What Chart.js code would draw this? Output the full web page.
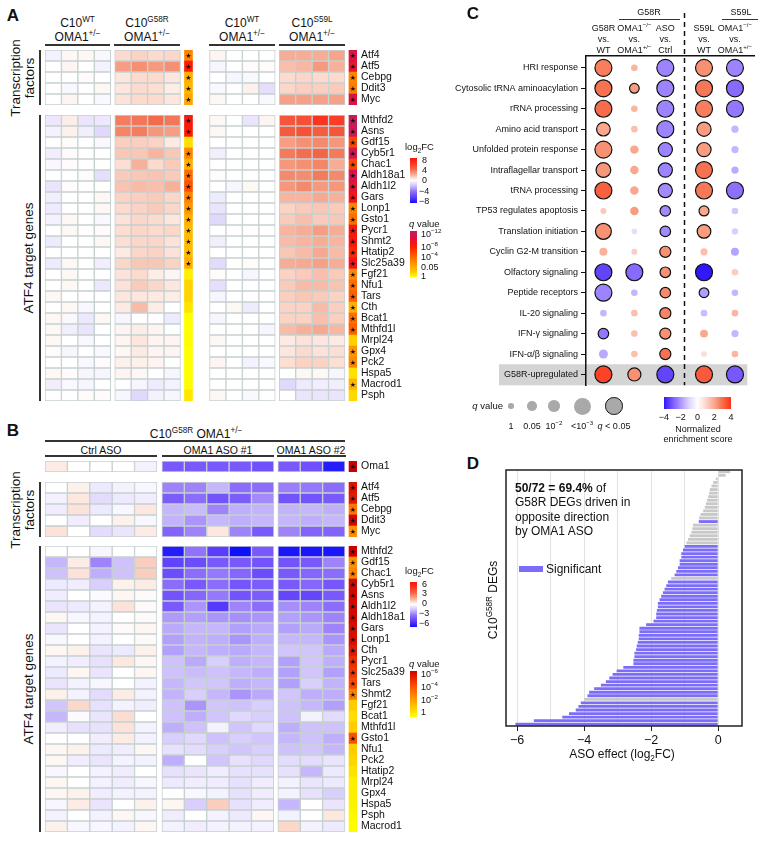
<!DOCTYPE html>
<html>
<head>
<meta charset="utf-8">
<script src="https://cdn.jsdelivr.net/npm/chart.js@4.4.0/dist/chart.umd.min.js"></script>
<style>
html, body { margin: 0; padding: 0; background: #fff; }
#fig { position: relative; width: 764px; height: 843px; overflow: hidden; font-family: "Liberation Sans", Arial, sans-serif; color: #111; }
#fig canvas { position: absolute; }
.t { position: absolute; white-space: nowrap; line-height: 1; text-align: center; }
.box { position: absolute; }
sup, sub { font-size: 68%; line-height: 0; }
</style>
</head>
<body>
<div id="fig"></div>
<script>
// ---------- panel A : C10 mutants vs WT (log2FC per replicate) ----------
const aTfGenes = ['Atf4', 'Atf5', 'Cebpg', 'Ddit3', 'Myc'];
const aTgGenes = ['Mthfd2', 'Asns', 'Gdf15', 'Cyb5r1', 'Chac1', 'Aldh18a1', 'Aldh1l2', 'Gars', 'Lonp1', 'Gsto1',
  'Pycr1', 'Shmt2', 'Htatip2', 'Slc25a39', 'Fgf21', 'Nfu1', 'Tars', 'Cth', 'Bcat1', 'Mthfd1l', 'Mrpl24', 'Gpx4',
  'Pck2', 'Hspa5', 'Macrod1', 'Psph'];

const aTfWtA = [[-0.4, 0.2, 0.2, -0.2], [0, 0.3, 0, -0.4], [0, 0, 0.1, 0], [0, -0.2, 0, 0.2], [0, 0.3, 0, -0.2]];
const aTfG58R = [[1.0, 1.2, 1.0, 1.1], [2.6, 3.0, 2.7, 3.0], [0.7, 1.0, 1.0, 0.7], [0.7, 1.0, 0.9, 0.5], [0.8, 1.0, 1.0, 0.7]];
const aTfWtB = [[0.3, 0, 0, 0], [-0.3, 0, 0.1, 0.1], [0, -0.3, -0.2, 0], [-0.2, 0, 0.4, -1.0], [0.2, 0, 0, -0.2]];
const aTfS59L = [[2.2, 2.2, 2.2, 2.4], [1.7, 1.9, 2.7, 2.1], [1.0, 1.1, 1.0, 1.0], [1.1, 1.3, 1.3, 1.4], [2.5, 2.5, 2.5, 2.5]];
const aTfQG58R = [4.2, 8, 2.5, 2.2, 2.8];   // -log10 q
const aTfQS59L = [10.5, 9.5, 4.2, 4.5, 10.5];

const aTgWtA = [
  [-0.7, 0.5, -0.8, -0.7], [-0.4, 0.4, -0.5, -1.2], [0, 0.1, 0, -0.2], [-0.5, 0.1, 0, 0], [-0.2, 0.1, 0, 0],
  [0, 0, 0.1, -1.0], [-0.8, 0.1, 0, 0], [-0.5, 0, 0, 0.2], [-0.6, 0, 0, 0.2], [-0.4, 0.2, 0, -0.2],
  [0, 0.2, 0, 0.1], [-0.6, 0, 0, 0.2], [0, 0, 0, 0], [-0.6, 0.2, 0, -0.5], [0, 0.2, 0, 0],
  [0, 0.2, 0, -0.7], [0.2, 0, 0, 0], [0, 0.2, -0.2, 0], [0.2, -0.2, -0.7, 0.2], [0.2, -0.5, -0.8, 0],
  [0.2, 0, -0.2, 0], [0.1, -0.3, 0, -0.2], [0, 0, -0.2, 0.1], [0.2, 0.1, -0.3, -0.3], [-0.5, -0.2, -0.3, 0], [0, 0, 0.1, 0.1]];
const aTgG58R = [
  [3.5, 3.7, 4.0, 3.7], [3.3, 3.5, 2.8, 2.6], [1.3, 1.3, 1.2, 0.6], [1.5, 1.5, 2.0, 1.5], [0.9, 2.1, 1.0, 1.4],
  [1.4, 1.5, 1.6, 1.4], [1.6, 1.8, 1.7, 2.1], [1.2, 1.3, 1.4, 1.1], [1.0, 1.2, 1.4, 1.1], [0.8, 1.1, 1.0, 0.7],
  [0.9, 1.1, 1.0, 1.1], [0.9, 1.1, 1.1, 0.8], [0.6, 1.1, 1.2, 0.8], [1.1, 1.5, 1.5, 1.2], [0.8, 1.0, 0.5, 0.3],
  [0.8, 1.4, 1.1, 0.7], [0.7, 0.7, 0.6, 0.5], [0.6, 1.8, 0.5, 0], [-0.3, 0, 0, -0.6], [0.3, 0.5, 0.3, 0],
  [0.3, 0.7, 0.3, 0.3], [0.2, 0.6, 0.3, 0.3], [0.4, 0.4, 0.3, 0], [0.3, 0.2, 0, -0.3], [0, -0.3, -0.6, -0.4], [-0.3, -1.2, -0.4, -0.3]];
const aTgWtB = [
  [0.2, 0, -0.8, 0.3], [0.2, 0, 0, 0], [0, 0, 0, 0], [-0.5, 0, 0, 0], [0, 0, 0, 0],
  [0.1, 0, 0, 0], [0, -0.3, 0.2, 0], [-0.6, 0, 0, 0], [-0.8, 0, 0, 0], [-1.2, 0, 0, 0],
  [0, 0, 0, 0], [-0.5, 0, 0, 0], [0, 0, 0, 0], [-1.1, 0, 0.1, 0], [0.1, 0, -0.3, 0],
  [-1.0, 0, 0, 0], [-0.3, 0, 0, 0], [0, 0.2, -0.6, 0], [-0.3, 0, 0, 0], [0, 0, 0, -0.3],
  [0.2, 0, 0, 0], [0, 0, 0, 0], [0.3, 0, -0.4, -0.2], [0, 0, 0, 0], [0, 0, 0, 0], [0.2, 0, -0.2, 0]];
const aTgS59L = [
  [4.8, 5.0, 6.2, 5.8], [4.6, 4.9, 4.5, 4.8], [2.6, 3.0, 3.2, 2.8], [3.6, 3.9, 4.2, 3.6], [2.8, 3.0, 3.3, 2.2],
  [3.2, 3.1, 3.6, 3.2], [2.8, 3.2, 2.7, 2.8], [2.0, 2.0, 2.3, 2.1], [1.2, 1.4, 1.5, 1.4], [1.4, 1.7, 1.4, 1.5],
  [2.0, 2.2, 2.6, 2.2], [1.8, 2.0, 2.2, 2.0], [1.5, 1.8, 2.3, 1.8], [2.2, 2.3, 2.5, 2.2], [1.2, 1.4, 1.7, 1.4],
  [1.4, 1.8, 1.8, 1.6], [1.3, 1.5, 1.4, 1.2], [1.2, 1.2, 1.8, 1.3], [1.2, 1.2, 1.7, 1.3], [1.8, 2.1, 2.3, 1.9],
  [0.6, 0.8, 0.7, 0.6], [0.7, 1.0, 0.8, 0.9], [0.9, 1.2, 1.2, 0.9], [0, 0.2, 0.2, -0.3], [-1.2, -0.6, -0.5, -0.5], [0, -0.8, -0.8, -0.8]];
const aTgQG58R = [8.5, 8, 0.8, 4, 2.5, 5, 6, 4.2, 3.5, 2.5, 2, 2, 2, 2.5, 0.4, 1.1, 1.1, 0.7, 0, 0, 0.1, 0, 0, 0, 0.1, 0.6];
const aTgQS59L = [11.5, 11.5, 6.5, 11, 6.5, 11, 9.5, 9, 4.2, 5, 8.5, 8.5, 7.5, 9, 4, 5, 5.5, 2.5, 5, 5.5, 1.2, 3.5, 4, 0.8, 2.2, 1.0];

// ---------- panel B : OMA1 ASO in C10 G58R ----------
const bOmaGene = ['Oma1'];
const bTgGenes = ['Mthfd2', 'Gdf15', 'Chac1', 'Cyb5r1', 'Asns', 'Aldh1l2', 'Aldh18a1', 'Gars', 'Lonp1', 'Cth',
  'Pycr1', 'Slc25a39', 'Tars', 'Shmt2', 'Fgf21', 'Bcat1', 'Mthfd1l', 'Gsto1', 'Nfu1', 'Pck2', 'Htatip2',
  'Mrpl24', 'Gpx4', 'Hspa5', 'Psph', 'Macrod1'];

const bOmaCtrl = [[0.4, 0, 0, 0, -0.3]];
const bOmaAso1 = [[-3.6, -3.6, -3.6, -3.6, -3.9]];
const bOmaAso2 = [[-3.6, -3.9, -5.6]];
const bOmaQ = [6];

const bTfCtrl = [[0, 0.3, -0.5, -0.3, -0.2], [-0.3, 0.5, -0.8, -0.5, -0.4], [-0.4, 0.6, -0.5, -0.2, 0.5], [0, -0.4, 0, 0.3, -0.2], [0.6, 0, -0.8, -0.6, 0.4]];
const bTfAso1 = [[-2.6, -2.6, -1.6, -3.0, -3.0], [-3.5, -3.0, -3.8, -3.5, -2.5], [-1.6, -1.5, -2.6, -1.8, -1.7], [-1.7, -2.3, -1.6, -1.8, -1.6], [-3.3, -2.6, 0.5, -2.6, -3.6]];
const bTfAso2 = [[-2.7, -2.8, -3.0], [-3.8, -3.8, -3.6], [-1.7, -1.6, -1.8], [-1.6, -1.8, -1.6], [-2.6, -3.3, -3.3]];
const bTfQ = [5.5, 5.3, 3.2, 5.8, 2.6];

const bTgCtrl = [
  [0, 0, -0.2, 0, 0], [-1.6, 0.4, -2.6, -1.4, 1.0], [-1.4, 0.6, -1.8, -1.4, 1.0], [-0.5, -0.4, -1.1, 0.3, 0.4],
  [-0.4, 0, -0.1, 0.2, 0.1], [-0.6, -0.5, -0.3, 0.6, 0.1], [0.2, -0.2, -0.3, 0, 0.1], [-0.6, 0, -0.3, 0.1, 0.2],
  [-0.2, 0, -0.3, 0, 0.1], [0.2, 0.3, -0.6, -0.5, 0.3], [-0.3, -0.4, -0.7, 0.5, 0.2], [-0.5, 0.2, -0.6, 0, 0.2],
  [-0.6, -0.3, -0.2, 0, -0.3], [0.3, -0.3, -0.8, 0.4, -0.3], [-1.3, 0.8, -0.7, -0.3, -0.4], [-1.6, -0.1, -0.6, 0.7, 0],
  [-0.4, -0.7, -0.7, 0.6, -0.3], [0, 0, -0.4, 0.4, -0.3], [0.2, 0.3, -0.5, -0.4, 0.2], [0.2, -0.4, -0.6, -0.3, -0.3],
  [-0.2, 0, -0.3, -0.4, 0], [0.2, 0, -0.3, -0.4, -0.2], [0.2, 0.3, -0.4, -0.3, -0.3], [-0.2, 0.4, -0.6, 0, 0.3],
  [-0.3, 0, -0.3, 0.2, -0.2], [0.3, -0.2, -0.2, -0.3, 0.2]];
const bTgAso1 = [
  [-5.6, -2.9, -4.5, -6.0, -3.6], [-4.3, -4.0, -3.6, -3.6, -3.8], [-4.0, -3.0, -2.8, -3.2, -4.0], [-3.0, -3.6, -3.0, -3.7, -3.5],
  [-3.8, -3.2, -2.8, -3.8, -3.5], [-3.6, -2.3, -4.6, -2.6, -3.0], [-2.2, -2.1, -2.3, -2.4, -2.3], [-1.9, -1.6, -1.6, -2.1, -1.9],
  [-2.1, -1.7, -1.8, -2.3, -1.8], [-2.1, -1.6, -1.8, -1.9, -1.6], [-1.4, -1.9, -1.1, -1.8, -1.6], [-1.4, -1.5, -1.4, -1.6, -1.8],
  [-1.6, -1.3, -1.3, -1.8, -1.6], [-1.7, -1.1, -1.6, -2.3, -1.9], [-1.4, -2.3, -1.3, -1.4, -1.1], [-1.4, -1.8, -1.3, -0.9, -1.1],
  [-1.8, -1.4, -0.3, -1.3, -0.9], [-1.1, -0.9, -1.4, -1.1, -1.3], [-0.7, -0.8, -1.1, -1.3, -1.1], [-1.8, 0, -1.3, -0.7, -0.9],
  [-0.7, -0.6, -0.4, -0.7, -0.7], [-0.5, -0.4, -0.4, -0.7, -0.4], [0, -0.2, -0.3, -0.7, -0.4], [0.2, -1.1, 1.0, -0.7, -0.4],
  [-0.4, 0, -0.3, -0.5, 0.2], [-0.3, -0.4, -0.3, -0.3, -0.3]];
const bTgAso2 = [
  [-5.8, -5.8, -5.8], [-3.8, -3.6, -2.6], [-3.6, -3.2, -3.0], [-3.6, -3.2, -3.7], [-4.2, -4.2, -3.6], [-2.4, -2.6, -3.0],
  [-2.1, -2.3, -2.6], [-2.1, -1.9, -2.6], [-1.6, -1.6, -2.3], [-1.3, -1.3, -1.9], [-2.1, -1.3, -1.8], [-2.1, -1.3, -2.1],
  [-2.1, -1.1, -1.7], [-1.3, -1.8, -1.8], [-1.4, -1.6, -2.1], [-1.4, -0.3, -0.8], [-1.8, -1.4, -1.4], [-1.6, -1.4, -1.8],
  [-1.4, -1.3, -1.6], [-0.8, -0.8, -0.6], [-0.7, -1.6, -0.5], [-0.3, -0.6, -0.5], [-0.3, -0.7, -1.1], [-1.6, 0, -0.6],
  [-0.3, 0, 0.5], [0.8, -0.3, -0.5]];
const bTgQ = [6, 2.6, 2.9, 5.8, 5.8, 5.8, 5.8, 5.6, 5.6, 5.3, 4.8, 4.6, 4.2, 3, 1.2, 0.8, 1.2, 4, 1.2, 1.0, 0.7, 0.4, 0.4, 0.3, 0.2, 0.1];

// ---------- panel C : pathway enrichment ----------
const cPaths = ['HRI response', 'Cytosolic tRNA aminoacylation', 'rRNA processing', 'Amino acid transport',
  'Unfolded protein response', 'Intraflagellar transport', 'tRNA processing', 'TP53 regulates apoptosis',
  'Translation initiation', 'Cyclin G2-M transition', 'Olfactory signaling', 'Peptide receptors',
  'IL-20 signaling', 'IFN-γ signaling', 'IFN-α/β signaling', 'G58R-upregulated'];
const cColX = [0, 1, 2, 3.25, 4.25];
const cDivider = 2.62;
const cNes = [
  [2.7, 1.7, -2.3, 2.4, -2.3], [2.9, 2.2, -2.3, 2.8, -2.7], [3.0, 1.7, -2.3, 2.7, -2.5], [2.0, 1.5, -2.3, 2.2, -1.5],
  [2.4, 2.0, -2.3, 2.2, -1.5], [2.3, 2.0, -2.3, 2.9, -1.7], [3.2, 2.0, -2.2, 2.8, -2.6], [1.3, 2.2, -2.2, 2.0, -1.2],
  [2.4, -0.8, -2.2, 2.2, -1.1], [1.8, 1.2, 2.4, 1.5, -1.8], [-3.3, -2.7, 2.4, -4.0, 1.2], [-2.3, -1.5, 2.5, -1.9, -1.5],
  [-1.5, 1.5, 2.6, -1.4, 1.7], [-2.5, 1.5, 2.4, 2.0, -1.5], [-1.7, 1.5, 2.9, 0.8, 1.7], [3.7, 2.4, -3.3, 3.3, -3.0]];
const cNlq = [
  [3, 0.4, 3, 3, 3], [3, 1.4, 3, 3, 3], [3, 0.4, 3, 3, 3], [2.4, 0.4, 3, 2.5, 0.6],
  [3, 1.0, 2.5, 2.5, 0.6], [2.6, 1.0, 2.5, 3, 0.6], [3, 1.0, 2.5, 3, 3], [0.2, 1.0, 1.7, 1.5, 0.4],
  [2.8, 0.1, 1.7, 2.4, 0.3], [0.85, 0.2, 1.9, 0.6, 0.85], [3, 3, 1.7, 3, 0.4], [3, 0.4, 1.7, 1.4, 0.4],
  [0.4, 0.4, 1.9, 0.4, 0.4], [1.7, 0.4, 1.9, 0.8, 0.6], [1.2, 0.4, 1.9, 0.1, 0.4], [3, 2.3, 3, 3, 3]];
const cBandFrom = 14.5;

// ---------- panel D : ASO effect on G58R DEGs ----------
const dEffect = [0.36, 0.22, -0.07, -0.15, -0.2, -0.25, -0.27, -0.3, -0.33, -0.37, -0.4, -0.45, -0.53, -0.57,
  -0.58, -0.75, -0.77, -0.8, -0.85, -0.9, -0.95, -1.0, -1.05, -1.1, -1.1, -1.15, -1.15, -1.2, -1.25, -1.3,
  -1.4, -1.5, -1.55, -1.6, -1.65, -1.7, -1.75, -1.8, -1.8, -1.83, -1.85, -1.85, -1.93, -2.15, -2.35, -2.35,
  -2.37, -2.37, -2.4, -2.43, -2.45, -2.5, -2.5, -2.53, -2.53, -2.83, -3.03, -3.15, -3.25, -3.35, -3.5, -3.7,
  -3.85, -3.9, -4.0, -4.1, -4.17, -4.25, -4.45, -4.65, -5.5, -6.05];
const dSig = [0, 0, 0, 0, 0, 0, 0, 0, 0, 0, 0, 0, 0, 0, 1, 0, 0, 0, 0, 0, 0, 1, 1, 1, 1, 1, 1, 1, 1, 1,
  0, 1, 1, 1, 1, 1, 1, 1, 1, 1, 1, 1, 1, 1, 1, 1, 1, 1, 1, 1, 1, 1, 1, 1, 1, 1, 1, 1, 1, 1, 1, 1, 1, 1,
  0, 1, 1, 1, 1, 1, 1, 1];
const dTicks = [-6, -5, -4, -3, -2, -1, 0];

// ---------- colours ----------
const posStops = [[0, '#ffffff'], [0.06, '#fdeee8'], [0.12, '#fcdcd0'], [0.2, '#f9c3b1'], [0.3, '#f6a48b'],
  [0.4, '#f4896b'], [0.5, '#f36a4c'], [0.65, '#f84a30'], [0.8, '#fd2e1c'], [1, '#ff1010']];
const negStops = [[0, '#ffffff'], [0.06, '#f2effe'], [0.12, '#e6e0fd'], [0.2, '#d5cafc'], [0.3, '#bfaefc'],
  [0.4, '#a78ffb'], [0.5, '#8c6cfb'], [0.65, '#7050fb'], [0.8, '#4f33fb'], [1, '#1010f8']];
const qStopsA = [[0, '#ffff00'], [1.3, '#ffcc00'], [4, '#ff8800'], [8, '#ff1a00'], [10, '#e0103a'], [12, '#c02060']];
const qStopsB = [[0, '#ffff00'], [1.3, '#ffc800'], [2, '#ffaa00'], [4, '#ff5000'], [6, '#cc0000']];
const nesPos = [[0, '#ffffff'], [0.25, '#fcd6cc'], [0.5, '#f9a88e'], [0.75, '#f76c4a'], [1, '#ff3018']];
const nesNeg = [[0, '#ffffff'], [0.25, '#ddd5fe'], [0.5, '#ad96ff'], [0.75, '#7858fc'], [1, '#3018fa']];
const gridGrey = '#c6d0d0';
const dSigColor = '#7b6cfa', dNsColor = '#c8c8c8';
const qSig = -Math.log10(0.05);

function hex(h) { return [1, 3, 5].map(i => parseInt(h.slice(i, i + 2), 16)); }
function ramp(stops, t) {
  if (t <= stops[0][0]) return stops[0][1];
  for (let i = 1; i < stops.length; i++) {
    if (t <= stops[i][0]) {
      const [t0, c0] = stops[i - 1], [t1, c1] = stops[i];
      const f = (t - t0) / (t1 - t0), a = hex(c0), b = hex(c1);
      return 'rgb(' + a.map((v, k) => Math.round(v + (b[k] - v) * f)).join(',') + ')';
    }
  }
  return stops[stops.length - 1][1];
}
const fcColor = (v, max) => ramp(v >= 0 ? posStops : negStops, Math.min(Math.abs(v) / max, 1));
const nesColor = v => ramp(v >= 0 ? nesPos : nesNeg, Math.min(Math.abs(v) / 4, 1));
function qRadius(nlq) {
  const s = [[0, 2.7], [1.3, 4.7], [2, 5.7], [3, 8.5]];
  for (let i = 1; i < s.length; i++) if (nlq <= s[i][0]) return s[i - 1][1] + (nlq - s[i - 1][0]) / (s[i][0] - s[i - 1][0]) * (s[i][1] - s[i - 1][1]);
  return s[3][1];
}

// ---------- page helpers ----------
const fig = document.getElementById('fig');
Chart.defaults.font.family = '"Liberation Sans", Arial, sans-serif';
Chart.defaults.color = '#111';

function mk(id, x, y, w, h) {
  const c = document.createElement('canvas');
  c.id = id; c.width = w; c.height = h;
  c.style.left = x + 'px'; c.style.top = y + 'px';
  fig.appendChild(c);
  return c;
}
function put(html, x, y, o = {}) {
  const d = document.createElement('div');
  d.className = 't';
  d.innerHTML = html;
  const ax = o.align === 'left' ? '0' : o.align === 'right' ? '-100%' : '-50%';
  d.style.left = x + 'px';
  d.style.top = y + 'px';
  d.style.fontSize = (o.size || 10) + 'px';
  if (o.bold) d.style.fontWeight = 'bold';
  if (o.align) d.style.textAlign = o.align;
  d.style.transform = `translate(${ax},-50%)` + (o.rot ? ` rotate(${o.rot}deg)` : '');
  fig.appendChild(d);
  return d;
}
function box(x, y, w, h, css) {
  const d = document.createElement('div');
  d.className = 'box';
  Object.assign(d.style, { left: x + 'px', top: y + 'px', width: w + 'px', height: h + 'px' }, css || {});
  fig.appendChild(d);
  return d;
}
const hl = (x1, x2, y, w = 1.4) => box(x1, y - w / 2, x2 - x1, w, { background: '#333' });
const vl = (x, y1, y2, w = 1.6) => box(x - w / 2, y1, w, y2 - y1, { background: '#333' });

const starPlugin = {
  id: 'stars',
  afterDatasetsDraw(chart) {
    const ctx = chart.ctx;
    ctx.save();
    ctx.font = '7px "DejaVu Sans"';
    ctx.fillStyle = '#111';
    ctx.textAlign = 'center';
    ctx.textBaseline = 'middle';
    chart.data.datasets.forEach((ds, i) => {
      if (!ds.qv) return;
      chart.getDatasetMeta(i).data.forEach((el, j) => {
        if (ds.qv[j] > qSig) ctx.fillText('★', (el.x + el.base) / 2, el.y + 0.5);
      });
    });
    ctx.restore();
  }
};

// heatmap band = stacked horizontal bars, one dataset per column
function heat(id, x, y, rows, parts, fcMax, qStops) {
  const datasets = [];
  parts.forEach(p => {
    const base = { categoryPercentage: 1, barPercentage: 1 };
    if (p.gap) {
      datasets.push({ ...base, data: rows.map(() => p.gap), backgroundColor: 'rgba(0,0,0,0)', borderWidth: 0 });
    } else if (p.q) {
      datasets.push({ ...base, data: rows.map(() => p.w), backgroundColor: p.q.map(v => ramp(qStops, v)), borderWidth: 0, qv: p.q });
    } else {
      for (let c = 0; c < p.vals[0].length; c++) {
        datasets.push({ ...base, data: rows.map(() => p.w), backgroundColor: p.vals.map(r => fcColor(r[c], fcMax)),
          borderColor: gridGrey, borderWidth: 1, borderSkipped: false });
      }
    }
  });
  const total = datasets.reduce((s, d) => s + d.data[0], 0);
  const h = rows.length * 11;
  return new Chart(mk(id, x, y - 4, 372, h + 8), {
    type: 'bar',
    data: { labels: rows, datasets },
    options: {
      indexAxis: 'y', responsive: false, animation: false, events: [],
      layout: { padding: { top: 4, bottom: 4 } },
      plugins: { legend: { display: false }, tooltip: { enabled: false } },
      scales: {
        x: { stacked: true, display: false, min: 0, max: total },
        y: { stacked: true, position: 'right', grid: { display: false, drawTicks: false }, border: { display: false },
          ticks: { font: { size: 10.5 }, padding: 4, color: '#111', autoSkip: false },
          afterFit: s => { s.width = 60; s.paddingTop = 0; s.paddingBottom = 0; } }
      }
    },
    plugins: [starPlugin]
  });
}

// ---------- panel A ----------
const aW = 16.4;
const aParts = (w1, g, qg, w2, s, qs) => [{ vals: w1, w: aW }, { gap: 4 }, { vals: g, w: aW }, { gap: 4 }, { q: qg, w: 8 },
  { gap: 17 }, { vals: w2, w: aW }, { gap: 4 }, { vals: s, w: aW }, { gap: 4 }, { q: qs, w: 8 }];
heat('aTf', 45, 50, aTfGenes, aParts(aTfWtA, aTfG58R, aTfQG58R, aTfWtB, aTfS59L, aTfQS59L), 8, qStopsA);
heat('aTg', 45, 115, aTgGenes, aParts(aTgWtA, aTgG58R, aTgQG58R, aTgWtB, aTgS59L, aTgQS59L), 8, qStopsA);

put('A', 13, 15, { size: 17, bold: true });
[[45, 110, 'WT'], [114, 180, 'G58R'], [209, 275, 'WT'], [279, 345, 'S59L']].forEach(([x1, x2, s]) => {
  put(`C10<sup>${s}</sup>`, (x1 + x2) / 2, 23, { size: 12 });
  put('OMA1<sup>+/−</sup>', (x1 + x2) / 2, 37, { size: 12 });
  hl(x1, x2, 45);
});
put('Transcription<br>factors', 22, 78, { size: 13.5, rot: -90 });
put('ATF4 target genes', 29, 258, { size: 13.5, rot: -90 });
vl(40, 50, 105); vl(40, 115, 401);

// ---------- panel B ----------
const bW = 22.4;
const bParts = (c, a1, a2, q) => [{ vals: c, w: bW }, { gap: 5 }, { vals: a1, w: bW }, { gap: 4 }, { vals: a2, w: bW }, { gap: 4 }, { q, w: 8 }];
heat('bOma', 45, 461, bOmaGene, bParts(bOmaCtrl, bOmaAso1, bOmaAso2, bOmaQ), 6, qStopsB);
heat('bTf', 45, 482, aTfGenes, bParts(bTfCtrl, bTfAso1, bTfAso2, bTfQ), 6, qStopsB);
heat('bTg', 45, 546, bTgGenes, bParts(bTgCtrl, bTgAso1, bTgAso2, bTgQ), 6, qStopsB);

put('B', 13, 430, { size: 17, bold: true });
put('C10<sup>G58R</sup> OMA1<sup>+/−</sup>', 196, 434, { size: 12 });
hl(45, 345, 441);
put('Ctrl ASO', 101, 450, { size: 10.5 });
put('OMA1 ASO #1', 218, 450, { size: 10.5 });
put('OMA1 ASO #2', 311, 450, { size: 10.5 });
hl(45, 157, 456); hl(162, 274, 456); hl(277, 346, 456);
put('Transcription<br>factors', 22, 510, { size: 13.5, rot: -90 });
put('ATF4 target genes', 29, 689, { size: 13.5, rot: -90 });
vl(40, 482, 537); vl(40, 546, 832);

// colour-bar legends for A and B
function fcGradient() {
  const p = posStops.slice().reverse().map(([t, c]) => `${c} ${50 - t * 50}%`);
  const n = negStops.slice(1).map(([t, c]) => `${c} ${50 + t * 50}%`);
  return `linear-gradient(to bottom, ${p.concat(n).join(',')})`;
}
function qGradient(stops, top) {
  return `linear-gradient(to bottom, ${stops.slice().reverse().map(([v, c]) => `${c} ${(top - v) / top * 100}%`).join(',')})`;
}
function fcLegend(y0, ticks, ys) {
  put('log<sub>2</sub>FC', 405, y0 - 11, { size: 9.5, align: 'left' });
  box(410, y0, 7, 45, { background: fcGradient() });
  ticks.forEach((t, i) => put(t, t.startsWith('−') ? 419 : 422, ys[i], { size: 9, align: 'left' }));
}
function qLegend(y0, stops, top, ticks, ys) {
  put('<i>q</i> value', 409, y0 - 7, { size: 9.5, align: 'left' });
  box(410, y0, 7, 46, { background: qGradient(stops, top) });
  ticks.forEach((t, i) => put(t, 421, ys[i], { size: 9, align: 'left' }));
}
fcLegend(158, ['8', '4', '0', '−4', '−8'], [160, 170, 180, 191, 201]);
qLegend(231, qStopsA, 12, ['10<sup>−12</sup>', '10<sup>−8</sup>', '10<sup>−4</sup>', '0.05', '1'], [234, 247, 257, 267, 276]);
fcLegend(582, ['6', '3', '0', '−3', '−6'], [584, 593, 603, 613, 623]);
qLegend(671, qStopsB, 6, ['10<sup>−6</sup>', '10<sup>−4</sup>', '10<sup>−2</sup>', '1'], [674, 687, 700, 712]);

// ---------- panel C ----------
const cPoints = [], cFill = [], cEdge = [];
cPaths.forEach((p, r) => cColX.forEach((x, c) => {
  cPoints.push({ x, y: r, r: qRadius(cNlq[r][c]) });
  cFill.push(nesColor(cNes[r][c]));
  cEdge.push(cNlq[r][c] > qSig ? '#111' : 'rgba(0,0,0,0)');
}));
const bandPlugin = {
  id: 'band',
  beforeDraw(chart) {
    const { ctx, chartArea: a, scales: { y } } = chart;
    const top = y.getPixelForValue(cBandFrom);
    ctx.save();
    ctx.fillStyle = '#d4d4d4';
    ctx.fillRect(a.left - 87, top, a.right - a.left + 80, a.bottom - top);
    ctx.restore();
  }
};
const dividerPlugin = {
  id: 'divider',
  afterDatasetsDraw(chart) {
    const { ctx, chartArea: a, scales: { x } } = chart;
    const px = x.getPixelForValue(cDivider);
    ctx.save();
    ctx.strokeStyle = '#111';
    ctx.lineWidth = 1.5;
    ctx.setLineDash([5, 4]);
    ctx.beginPath(); ctx.moveTo(px, 13); ctx.lineTo(px, a.bottom); ctx.stroke();
    ctx.restore();
  }
};
const cChart = new Chart(mk('cC', 380, 0, 384, 395), {
  type: 'bubble',
  data: { datasets: [{ data: cPoints, backgroundColor: cFill, borderColor: cEdge, borderWidth: 1.2 }] },
  options: {
    responsive: false, animation: false, events: [],
    layout: { padding: { top: 56, right: 4, bottom: 7 } },
    plugins: { legend: { display: false }, tooltip: { enabled: false } },
    scales: {
      x: { position: 'top', min: -0.5625, max: 4.875, ticks: { display: false }, grid: { display: false, drawTicks: false },
        border: { display: true, color: '#111', width: 1.5 } },
      y: { reverse: true, min: -0.58, max: 15.53,
        afterBuildTicks: s => { s.ticks = cPaths.map((_, i) => ({ value: i })); },
        ticks: { callback: v => cPaths[v], font: { size: 9 }, color: '#111', padding: 3, autoSkip: false },
        grid: { drawOnChartArea: false, tickLength: 5, color: '#111', lineWidth: 1 },
        border: { display: true, color: '#111', width: 1.5 },
        afterFit: s => { s.width = 206; } }
    }
  },
  plugins: [bandPlugin, dividerPlugin]
});

put('C', 473, 13, { size: 17, bold: true });
const cHeads = [['G58R', 'vs.', 'WT'], ['OMA1<sup>−/−</sup>', 'vs.', 'OMA1<sup>+/−</sup>'], ['ASO', 'vs.', 'Ctrl'],
  ['S59L', 'vs.', 'WT'], ['OMA1<sup>−/−</sup>', 'vs.', 'OMA1<sup>+/−</sup>']];
cHeads.forEach((lines, i) => {
  const px = 380 + cChart.scales.x.getPixelForValue(cColX[i]);
  lines.forEach((s, k) => put(s, px, [28, 39, 50][k], { size: 9 }));
});
put('G58R', 649, 12, { size: 9 }); hl(619, 680, 19.5, 1.2);
put('S59L', 741, 12, { size: 9 }); hl(722, 758, 19.5, 1.2);

// bubble-size legend
put('<i>q</i> value', 503, 406, { size: 9.5, align: 'right' });
[[511, 0, '1'], [532, 1.3, '0.05'], [554, 2, '10<sup>−2</sup>'], [582, 3, '&lt;10<sup>−3</sup>']].forEach(([cx, v, s]) => {
  const r = qRadius(v);
  box(cx - r, 406 - r, 2 * r, 2 * r, { background: '#a9a9a9', borderRadius: '50%' });
  put(s, cx, 426, { size: 9 });
});
const rSig = qRadius(3) + 0.3;
box(614 - rSig, 406 - rSig, 2 * rSig, 2 * rSig, { background: '#a9a9a9', borderRadius: '50%', border: '1.2px solid #111', boxSizing: 'border-box' });
put('<i>q</i> &lt; 0.05', 614, 426, { size: 9 });
// NES colour bar
const nesGrad = nesNeg.slice().reverse().map(([t, c]) => `${c} ${50 - t * 50}%`)
  .concat(nesPos.slice(1).map(([t, c]) => `${c} ${50 + t * 50}%`)).join(',');
box(664, 397, 67, 12, { background: `linear-gradient(to right, ${nesGrad})` });
['−4', '−2', '0', '2', '4'].forEach((s, i) => put(s, 664 + i * 16.75, 417, { size: 9 }));
put('Normalized', 698, 429, { size: 9 });
put('enrichment score', 698, 439, { size: 9 });

// ---------- panel D ----------
const framePlugin = {
  id: 'frame',
  afterDatasetsDraw(chart) {
    const { ctx, chartArea: a } = chart;
    ctx.save();
    ctx.strokeStyle = '#222';
    ctx.lineWidth = 1.5;
    ctx.strokeRect(a.left, a.top, a.right - a.left, a.bottom - a.top);
    ctx.restore();
  }
};
new Chart(mk('dC', 500, 460, 250, 300), {
  type: 'bar',
  data: { labels: dEffect.map((_, i) => i + 1),
    datasets: [{ data: dEffect, backgroundColor: dSig.map(s => s ? dSigColor : dNsColor), borderWidth: 0,
      barPercentage: 0.8, categoryPercentage: 1 }] },
  options: {
    indexAxis: 'y', responsive: false, animation: false, events: [],
    layout: { padding: { left: 6, right: 8, top: 10, bottom: 4 } },
    plugins: { legend: { display: false }, tooltip: { enabled: false } },
    scales: {
      x: { min: -6.33, max: 0.71,
        afterBuildTicks: s => { s.ticks = dTicks.map(v => ({ value: v })); },
        ticks: { callback: v => v % 2 === 0 ? (v < 0 ? '−' + Math.abs(v) : String(v)) : '', font: { size: 12.5 }, color: '#111',
          padding: 2, autoSkip: false, maxRotation: 0 },
        grid: { color: '#e2e2e2', lineWidth: 1, tickLength: 5,
          tickColor: c => (c.tick && c.tick.value % 2 === 0) ? '#222' : 'rgba(0,0,0,0)' },
        border: { display: false },
        afterFit: s => { s.height = 30; } },
      y: { display: false }
    }
  },
  plugins: [framePlugin]
});
put('D', 473, 463, { size: 17, bold: true });
put('<b>50/72 = 69.4%</b> of', 515, 488, { size: 12, align: 'left' });
put('G58R DEGs driven in', 515, 502, { size: 12, align: 'left' });
put('opposite direction', 515, 517, { size: 12, align: 'left' });
put('by OMA1 ASO', 515, 531, { size: 12, align: 'left' });
box(519, 566, 24, 6, { background: dSigColor });
put('Significant', 546, 569, { size: 12, align: 'left' });
put('C10<sup>G58R</sup> DEGs', 493, 600, { size: 12, rot: -90 });
put('ASO effect (log<sub>2</sub>FC)', 622, 754, { size: 12 });
</script>
</body>
</html>
